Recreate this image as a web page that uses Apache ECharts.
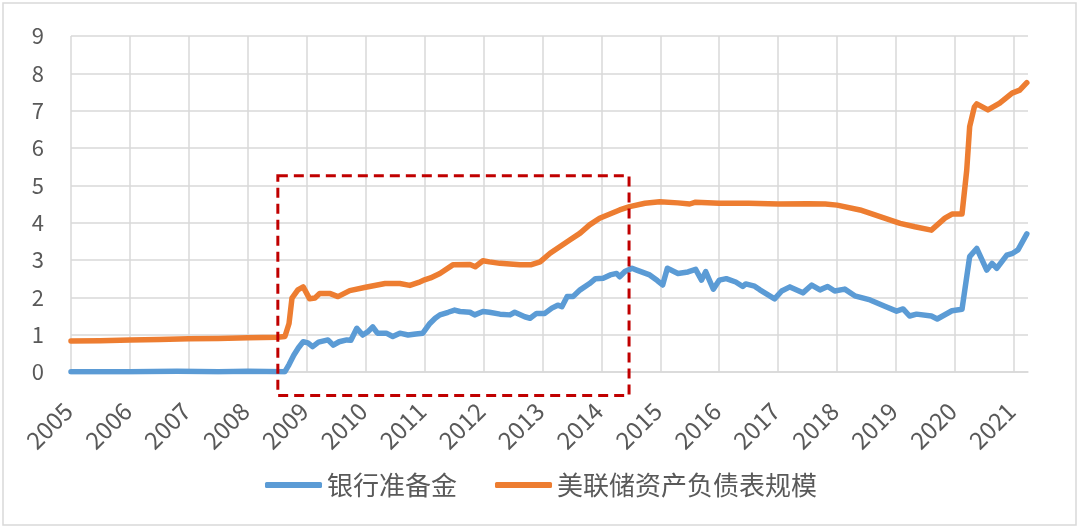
<!DOCTYPE html>
<html>
<head>
<meta charset="utf-8">
<script src="https://cdn.jsdelivr.net/npm/echarts@6/dist/echarts.min.js"></script>
<style>
html,body{margin:0;padding:0;background:#fff;}
#chart{width:1080px;height:529px;}
</style>
</head>
<body>
<div id="chart"></div>
<script>
// Series names
const seriesNames = ['银行准备金', '美联储资产负债表规模'];

// x ticks (years) and y ticks
const yearTicks = [2005,2006,2007,2008,2009,2010,2011,2012,2013,2014,2015,2016,2017,2018,2019,2020,2021];
const yTicks = [0,1,2,3,4,5,6,7,8,9];

// Bank reserves (万亿美元), dates as decimal years
const reserveDates = [2005.0,2006.0,2006.8,2007.5,2008.0,2008.63,2008.7,2008.78,2008.86,2008.94,2009.02,2009.1,2009.2,2009.36,2009.45,2009.55,2009.68,2009.75,2009.85,2009.95,2010.04,2010.12,2010.2,2010.35,2010.46,2010.58,2010.72,2010.85,2010.97,2011.09,2011.18,2011.26,2011.4,2011.51,2011.6,2011.77,2011.85,2011.99,2012.1,2012.28,2012.45,2012.53,2012.7,2012.79,2012.9,2013.04,2013.16,2013.26,2013.33,2013.42,2013.52,2013.64,2013.8,2013.9,2014.03,2014.15,2014.26,2014.31,2014.4,2014.52,2014.6,2014.82,2014.95,2015.04,2015.12,2015.3,2015.47,2015.6,2015.7,2015.77,2015.9,2016.0,2016.12,2016.28,2016.4,2016.45,2016.6,2016.69,2016.94,2017.06,2017.2,2017.42,2017.57,2017.71,2017.84,2017.96,2018.13,2018.3,2018.56,2018.81,2019.01,2019.12,2019.23,2019.35,2019.6,2019.7,2019.95,2020.12,2020.25,2020.37,2020.54,2020.63,2020.71,2020.88,2020.98,2021.07,2021.22];
const reserveValues = [0.01,0.01,0.02,0.01,0.02,0.01,0.2,0.45,0.65,0.81,0.78,0.68,0.8,0.86,0.72,0.81,0.86,0.85,1.17,0.99,1.08,1.21,1.04,1.04,0.95,1.04,0.99,1.02,1.04,1.3,1.44,1.53,1.6,1.66,1.62,1.6,1.53,1.62,1.6,1.55,1.53,1.6,1.48,1.44,1.57,1.57,1.71,1.79,1.75,2.02,2.02,2.2,2.37,2.5,2.51,2.6,2.64,2.55,2.69,2.78,2.73,2.6,2.45,2.33,2.78,2.64,2.68,2.75,2.46,2.69,2.22,2.46,2.5,2.41,2.29,2.36,2.3,2.2,1.96,2.17,2.28,2.12,2.33,2.2,2.29,2.17,2.22,2.04,1.93,1.76,1.63,1.69,1.5,1.55,1.5,1.42,1.64,1.68,3.09,3.31,2.73,2.91,2.78,3.13,3.18,3.27,3.70];

// Fed balance sheet size (万亿美元)
const fedDates = [2005.0,2005.5,2006.0,2006.5,2007.0,2007.5,2008.0,2008.5,2008.63,2008.7,2008.75,2008.85,2008.94,2009.05,2009.14,2009.22,2009.4,2009.53,2009.73,2010.0,2010.33,2010.58,2010.75,2010.9,2011.0,2011.1,2011.26,2011.48,2011.77,2011.86,2011.99,2012.1,2012.28,2012.62,2012.8,2012.96,2013.13,2013.47,2013.64,2013.8,2013.97,2014.31,2014.48,2014.74,2014.99,2015.3,2015.5,2015.6,2016.0,2016.5,2017.0,2017.5,2017.8,2018.0,2018.39,2018.73,2019.07,2019.32,2019.6,2019.83,2019.95,2020.12,2020.2,2020.25,2020.33,2020.37,2020.56,2020.76,2020.97,2021.1,2021.22];
const fedValues = [0.83,0.84,0.86,0.87,0.89,0.9,0.92,0.93,0.95,1.3,1.98,2.2,2.28,1.96,1.98,2.1,2.1,2.02,2.18,2.27,2.37,2.37,2.32,2.4,2.47,2.52,2.64,2.87,2.88,2.82,2.98,2.95,2.91,2.87,2.87,2.95,3.18,3.54,3.72,3.94,4.12,4.34,4.43,4.52,4.56,4.53,4.5,4.55,4.52,4.52,4.5,4.51,4.5,4.47,4.34,4.16,3.98,3.89,3.80,4.12,4.23,4.23,5.4,6.57,7.1,7.18,7.02,7.2,7.47,7.55,7.75];

// Highlight box (data units)
const boxX = [2008.51, 2014.47];
const boxY = [-0.63, 5.26];

const xMax = 2021.24;

const reserveData = reserveDates.map((d,i)=>[d, reserveValues[i]]);
const fedData = fedDates.map((d,i)=>[d, fedValues[i]]);

const chart = echarts.init(document.getElementById('chart'), null, {renderer:'canvas'});
const font = '"Noto Sans CJK SC", "Noto Sans", sans-serif';
const gridColor = '#d9d9d9';
const textColor = '#595959';

chart.setOption({
  animation:false,
  backgroundColor:'#ffffff',
  textStyle:{fontFamily:font},
  grid:{left:71, right:52, top:36, bottom:157, containLabel:false},
  legend:{
    left:260, top:467,
    icon:'roundRect',
    itemWidth:57, itemHeight:6, itemGap:38,
    textStyle:{fontSize:26, color:textColor, fontFamily:font},
    data:seriesNames
  },
  xAxis:{
    type:'value', min:yearTicks[0], max:xMax, interval:1,
    axisLine:{show:true, lineStyle:{color:gridColor, width:1.5}},
    axisTick:{show:false},
    axisLabel:{rotate:45, fontSize:24, color:textColor, margin:32, padding:[0,4,0,0], showMaxLabel:false,
      formatter:v=> yearTicks.indexOf(v)>=0 ? String(v) : ''},
    splitLine:{show:true, showMaxLine:false, lineStyle:{color:gridColor, width:1.5}}
  },
  yAxis:{
    type:'value', min:yTicks[0], max:yTicks[yTicks.length-1], interval:1,
    axisLine:{show:false}, axisTick:{show:false},
    axisLabel:{fontSize:22, color:textColor, margin:27},
    splitLine:{lineStyle:{color:gridColor, width:1.5}}
  },
  series:[
    {name:seriesNames[0], type:'line', data:reserveData, symbol:'none',
      lineStyle:{color:'#5B9BD5', width:5.5, cap:'round', join:'round'},
      itemStyle:{color:'#5B9BD5'}, z:3},
    {name:seriesNames[1], type:'line', data:fedData, symbol:'none',
      lineStyle:{color:'#ED7D31', width:5.5, cap:'round', join:'round'},
      itemStyle:{color:'#ED7D31'}, z:3}
  ]
});

const p1 = chart.convertToPixel({gridIndex:0}, [boxX[0], boxY[1]]);
const p2 = chart.convertToPixel({gridIndex:0}, [boxX[1], boxY[0]]);
chart.setOption({
  graphic:[
    {type:'rect', silent:true, z:0,
      shape:{x:3, y:3, width:1073, height:522},
      style:{fill:'none', stroke:'#d9d9d9', lineWidth:1.5}},
    {type:'rect', silent:true, z:10,
      shape:{x:p1[0], y:p1[1], width:p2[0]-p1[0], height:p2[1]-p1[1]},
      style:{fill:'none', stroke:'#C00000', lineWidth:3, lineDash:[10,6]}}
  ]
});
</script>
</body>
</html>
